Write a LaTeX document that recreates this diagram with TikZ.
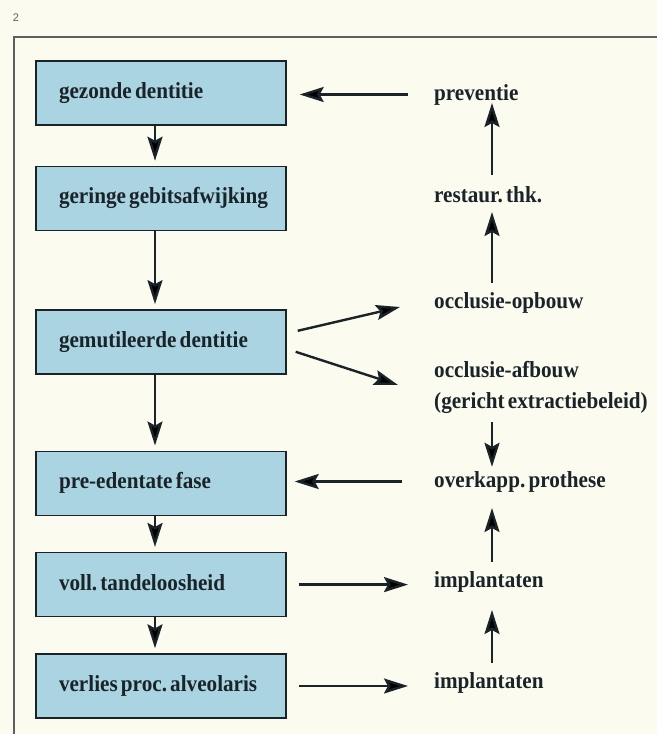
\documentclass[tikz,border=0pt]{standalone}
\usepackage{fontspec}
\setmainfont{Liberation Serif}[FakeStretch=0.92]
\setsansfont{Liberation Sans}
\usepackage{xcolor}
\definecolor{boxblue}{RGB}{170,212,226}
\definecolor{paper}{RGB}{252,251,240}
\definecolor{ink}{RGB}{25,35,40}
\definecolor{rulegray}{RGB}{95,95,95}
\usepackage{tikz}
\usetikzlibrary{positioning}
\usetikzlibrary{arrows.meta}
\newcommand{\phasefont}{\bfseries\fontsize{23}{31}\selectfont\frenchspacing}
\tikzset{stage/.style={rectangle,draw=ink,line width=1.4pt,fill=boxblue,minimum height=64pt,text width=204pt,inner xsep=23pt,inner ysep=0pt,align=left,text height=16pt,text depth=5pt,text=ink,font=\phasefont,
  execute at begin node={\spaceskip=.14em\relax\hyphenpenalty=10000\relax}},
treat/.style={inner sep=2pt,anchor=base west,text height=16pt,text depth=5pt,text=ink,font=\phasefont,
  execute at begin node={\spaceskip=.14em\relax}},}

\begin{document}
\begin{tikzpicture}[x=1pt,y=-1pt,>={Stealth[length=24pt,width=15pt,inset=4pt]},node distance=40pt]
	\fill[paper] (0,0) rectangle (657,734);
	\useasboundingbox (0,0) rectangle (657,734);
	\node[text=rulegray,font=\sffamily\fontsize{11}{11}\selectfont] (fignum) at (16,18) {2};
	\draw[rulegray,line width=1.3pt] (657,37) -- (14,37) -- (14,734);

	% linker kolom
	\node[stage] (gezond) at (161,93) {gezonde dentitie};
	\node[stage] (gering) [below=40pt of gezond] {geringe~gebitsafwijking};
	\node[stage] (mutil) [below=78pt of gering] {gemutileerde~dentitie};
	\node[stage] (predent) [below=76pt of mutil] {pre-edentate fase};
	\node[stage] (tandloos) [below=36pt of predent] {voll. tandeloosheid};
	\node[stage] (verlies) [below=36pt of tandloos] {verlies~proc.~alveolaris};

	% rechter kolom
	\node[treat] (prevent) at (432,100) {preventie};
	\node[treat] (restaur) at (432,202) {restaur. thk.};
	\node[treat] (opbouw) at (432,308) {occlusie-opbouw};
	\node[treat] (afbouw) at (432,377) {occlusie-afbouw};
	\node[treat] (beleid) at (432,408) {(gericht extractiebeleid)};
	\node[treat] (overkap) at (432,487) {overkapp. prothese};
	\node[treat] (implA) at (432,587) {implantaten};
	\node[treat] (implB) at (432,688) {implantaten};
	\coordinate (spine) at (492,0);

	\path[draw=ink,line width=2.4pt,every edge/.append style={->}]
	([xshift=-6pt]gezond.south) edge [shorten >=5pt] ([xshift=-6pt]gering.north)
	([xshift=-6pt]gering.south) edge [shorten >=5pt] ([xshift=-6pt]mutil.north)
	([xshift=-6pt]mutil.south) edge [shorten >=5pt] ([xshift=-6pt]predent.north)
	([xshift=-6pt]predent.south) edge [shorten >=5pt] ([xshift=-6pt]tandloos.north)
	([xshift=-6pt]tandloos.south) edge [shorten >=5pt] ([xshift=-6pt]verlies.north)
	(prevent.west) edge [shorten <=24pt,shorten >=13pt] (prevent.west -| gezond.east)
	(overkap.west) edge [shorten <=30pt,shorten >=8pt] (overkap.west -| predent.east)
	(tandloos.east) edge [shorten <=12pt,shorten >=24pt] (tandloos.east -| implA.west)
	(verlies.east) edge [shorten <=12pt,shorten >=24pt] (verlies.east -| implB.west)
	([xshift=11pt,yshift=11pt]mutil.east) edge ([xshift=-32pt,yshift=-4.5pt]opbouw.west)
	([xshift=9pt,yshift=-10pt]mutil.east) edge ([xshift=-34pt,yshift=-13.5pt]afbouw.west)
	(restaur.north -| spine) edge [shorten <=9pt,shorten >=3pt] (prevent.base -| spine)
	(opbouw.north -| spine) edge [shorten <=7pt,shorten >=10pt] (restaur.base -| spine)
	(beleid.south -| spine) edge [shorten <=7pt,shorten >=2pt] (overkap.north -| spine)
	(implA.north -| spine) edge [shorten <=7pt,shorten >=21pt] (overkap.base -| spine)
	(implB.north -| spine) edge [shorten <=7pt,shorten >=23pt] (implA.base -| spine);
\end{tikzpicture}
\end{document}
